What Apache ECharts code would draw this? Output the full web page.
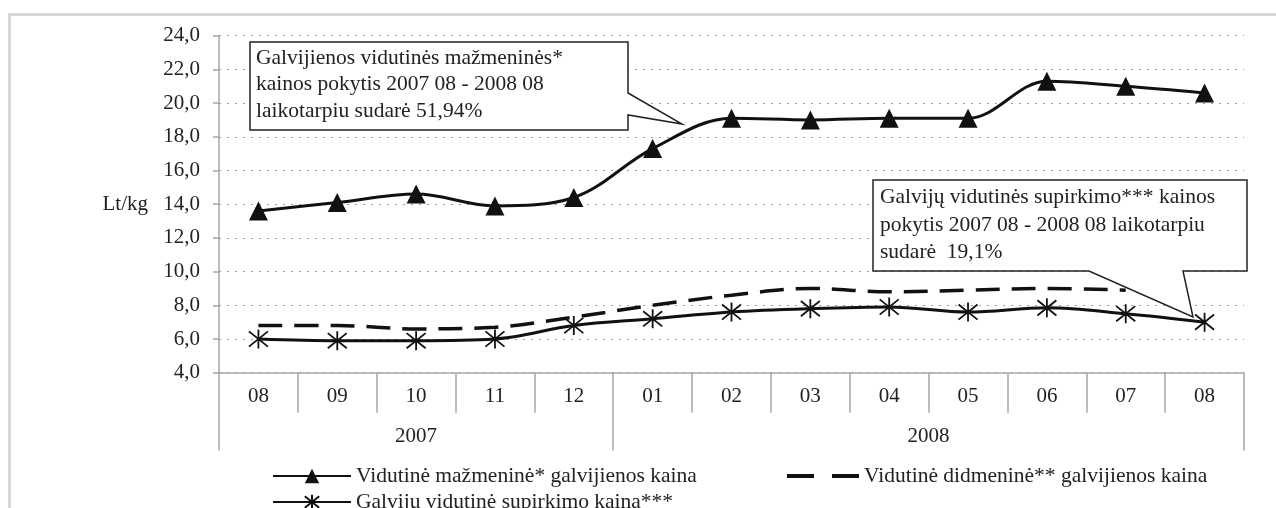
<!DOCTYPE html>
<html><head><meta charset="utf-8">
<script src="https://cdn.jsdelivr.net/npm/echarts@6/dist/echarts.min.js"></script>
<style>html,body{margin:0;padding:0;background:#fff}#c{width:1276px;height:508px}</style>
</head><body><div id="c"></div>
<script>
const months = ['08','09','10','11','12','01','02','03','04','05','06','07','08'];
const years = ['2007','2008'];
const yearSpans = [5, 8];
const retail = [13.6, 14.1, 14.6, 13.9, 14.4, 17.3, 19.1, 19.0, 19.1, 19.1, 21.3, 21.0, 20.6];
const wholesale = [6.8, 6.8, 6.6, 6.7, 7.3, 8.0, 8.6, 9.0, 8.8, 8.9, 9.0, 8.9, null];
const purchase = [6.0, 5.9, 5.9, 6.0, 6.8, 7.2, 7.6, 7.8, 7.9, 7.6, 7.85, 7.5, 7.0];
const names = ['Vidutinė mažmeninė* galvijienos kaina','Vidutinė didmeninė** galvijienos kaina','Galvijų vidutinė supirkimo kaina***'];
const callout1 = ['Galvijienos vidutinės mažmeninės*','kainos pokytis 2007 08 - 2008 08','laikotarpiu sudarė 51,94%'];
const callout2 = ['Galvijų vidutinės supirkimo*** kainos','pokytis 2007 08 - 2008 08 laikotarpiu','sudarė  19,1%'];

const FONT = 'Liberation Serif';
const FS = 21.5;
const TXT = '#222';
const AX = '#a6a6a6';
const LINE = '#111';

const bounds = [0]; yearSpans.forEach(s => bounds.push(bounds[bounds.length-1] + s));
const centres = yearSpans.map((s,i) => bounds[i] + s/2);

const star = 'path://M0,-10 L0,10 M-8,-8 L8,8 M-8,8 L8,-8';
const dashIcon = 'path://M0,0 H27 V4 H0 Z M45,0 H72 V4 H45 Z';

const chart = echarts.init(document.getElementById('c'));
const lg = (item, left, top, w, h) => ({
  data:[item], left:left, top:top, itemWidth:w, itemHeight:h, itemGap:6,
  textStyle:{fontFamily:FONT, fontSize:FS, color:TXT}, selectedMode:false
});
chart.setOption({
  animation:false,
  grid:{left:219, right:32, top:35.7, bottom:135.3, containLabel:false},
  xAxis:[{
    type:'category', data:months, boundaryGap:true,
    axisLine:{lineStyle:{color:AX, width:1.5}},
    axisTick:{show:true, interval:0, length:40, lineStyle:{color:AX, width:1.5}},
    axisLabel:{interval:0, margin:13, fontFamily:FONT, fontSize:21, color:TXT},
    splitLine:{show:false}
  },{
    type:'value', min:0, max:months.length, position:'bottom',
    axisLine:{show:false},
    axisTick:{show:true, customValues:bounds, length:78, lineStyle:{color:AX, width:1.5}},
    axisLabel:{customValues:centres, margin:53, fontFamily:FONT, fontSize:21, color:TXT,
      formatter:(v)=>{const i=centres.indexOf(v); return i>=0?years[i]:'';}},
    splitLine:{show:false}
  }],
  yAxis:{
    type:'value', min:4, max:24, interval:2,
    name:'Lt/kg', nameLocation:'middle', nameRotate:0, nameGap:71,
    nameTextStyle:{fontFamily:FONT, fontSize:21, color:TXT, padding:[0,0,36,0]},
    axisLine:{show:true, lineStyle:{color:AX, width:1.5}},
    axisTick:{show:true, length:6, lineStyle:{color:AX, width:1.5}},
    axisLabel:{margin:19, fontFamily:FONT, fontSize:21, color:TXT,
      formatter:(v)=>v.toFixed(1).replace('.',',')},
    splitLine:{show:true, lineStyle:{color:'#9a9a9a', type:[2,6], width:1.2}}
  },
  legend:[
    lg(names[0],267,460,78,18),
    lg({name:names[1], icon:dashIcon},782,460,72,4),
    lg(names[2],267,486,78,18)
  ],
  series:[{
    name:names[0], type:'line', data:retail, smooth:0.35,
    symbol:'triangle', symbolSize:[19,19],
    lineStyle:{color:LINE, width:3}, itemStyle:{color:LINE}
  },{
    name:names[1], type:'line', data:wholesale, smooth:0.35,
    symbol:'none',
    lineStyle:{color:LINE, width:3.5, type:[24,12]}, itemStyle:{color:LINE}
  },{
    name:names[2], type:'line', data:purchase, smooth:0.35,
    symbol:star, symbolSize:[19,19],
    lineStyle:{color:LINE, width:3}, itemStyle:{color:'none', borderColor:LINE, borderWidth:1.8}
  }],
  graphic:[
    {type:'rect', shape:{x:9.5, y:14.5, width:1400, height:700}, style:{fill:'none', stroke:'#d9d9d9', lineWidth:3}, silent:true},
    {type:'polygon', shape:{points:[[250,42],[628,42],[628,93],[682,124],[628,115],[628,130],[250,130]]},
     style:{fill:'#fff', stroke:'#222', lineWidth:1.5}, z:100},
    {type:'text', left:256, top:45, z:101, style:{text:callout1.join('\n'), fontFamily:FONT, fontSize:FS, lineHeight:26.5, fill:TXT}},
    {type:'polygon', shape:{points:[[873,180],[1247,180],[1247,271],[1183,271],[1193,317],[1089,271],[873,271]]},
     style:{fill:'#fff', stroke:'#222', lineWidth:1.5}, z:100},
    {type:'text', left:880, top:184, z:101, style:{text:callout2.join('\n'), fontFamily:FONT, fontSize:FS, lineHeight:27.5, fill:TXT}}
  ]
});
</script></body></html>
